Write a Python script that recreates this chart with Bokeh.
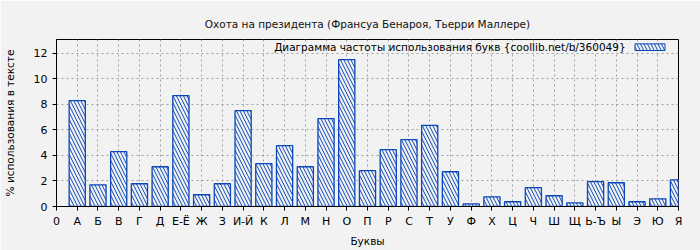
from bokeh.plotting import figure
from bokeh.models import FixedTicker, Range1d, Label, BoxAnnotation
from bokeh.embed import file_html
from bokeh.resources import INLINE

letters = ["А", "Б", "В", "Г", "Д", "Е-Ё", "Ж", "З", "И-Й", "К", "Л", "М", "Н", "О", "П",
           "Р", "С", "Т", "У", "Ф", "Х", "Ц", "Ч", "Ш", "Щ", "Ь-Ъ", "Ы", "Э", "Ю", "Я"]
percent = [8.29, 1.70, 4.29, 1.78, 3.11, 8.68, 0.92, 1.78, 7.50, 3.35, 4.76, 3.11, 6.88, 11.50, 2.80,
           4.45, 5.23, 6.35, 2.72, 0.20, 0.76, 0.37, 1.47, 0.84, 0.29, 1.94, 1.86, 0.37, 0.60, 2.09]
positions = list(range(1, len(letters) + 1))
tick_labels = {0: "0"}
tick_labels.update({i: l for i, l in zip(positions, letters)})

title = "Охота на президента (Франсуа Бенароя, Тьерри Маллере)"
legend_text = "Диаграмма частоты использования букв {coollib.net/b/360049}"

BG = "#f2f2f2"
BLUE = "#0a47b8"
FONT = "DejaVu Sans"

p = figure(width=700, height=250, output_backend="svg", toolbar_location=None,
           x_range=Range1d(0, 30), y_range=Range1d(0, 13.07),
           min_border_left=52, min_border_right=22, min_border_top=39, min_border_bottom=44,
           background_fill_color=BG, border_fill_color=BG)

p.title.text = title
p.title.align = "center"
p.title.text_font = FONT
p.title.text_font_size = "10.5px"
p.title.text_font_style = "normal"
p.title.text_color = "#111111"
p.title.standoff = 20

p.outline_line_color = "black"
p.outline_line_width = 1

p.vbar(x=positions, top=percent, width=0.78, fill_color=BG, line_color=BLUE, line_width=1.3,
       hatch_pattern="left_diagonal_line", hatch_color=BLUE, hatch_scale=7, hatch_weight=1)

p.xaxis.ticker = FixedTicker(ticks=[0] + positions)
p.xaxis.major_label_overrides = tick_labels
p.yaxis.ticker = FixedTicker(ticks=[0, 2, 4, 6, 8, 10, 12])
for ax in (p.xaxis, p.yaxis):
    ax.axis_line_color = "black"
    ax.major_tick_line_color = "black"
    ax.major_tick_out = 4
    ax.major_tick_in = 0
    ax.minor_tick_line_color = None
    ax.major_label_text_font = FONT
    ax.major_label_text_font_size = "11px"
    ax.major_label_text_color = "black"
    ax.axis_label_text_font = FONT
    ax.axis_label_text_font_size = "10.5px"
    ax.axis_label_text_font_style = "normal"
    ax.axis_label_text_color = "black"
p.xaxis.axis_label = "Буквы"
p.yaxis.axis_label = "% использования в тексте"
p.xaxis.major_label_standoff = 4
p.xaxis.axis_label_standoff = 4
p.yaxis.major_label_standoff = 5
p.yaxis.axis_label_standoff = 15

for g in (p.xgrid, p.ygrid):
    g.grid_line_color = "#a0a0a0"
    g.grid_line_dash = "2 3"
    g.grid_line_width = 1

p.add_layout(Label(x=27.45, y=12.47, text=legend_text,
                   text_font=FONT, text_font_size="10.5px", text_align="right",
                   text_baseline="middle", text_color="black"))
p.add_layout(BoxAnnotation(left=27.9, right=29.35, bottom=12.21, top=12.73,
                           fill_color=BG, fill_alpha=1, line_color=BLUE, line_width=1,
                           line_alpha=1, hatch_pattern="left_diagonal_line",
                           hatch_color=BLUE, hatch_scale=7, hatch_weight=1))

open("out.html", "w").write(file_html(p, INLINE))
